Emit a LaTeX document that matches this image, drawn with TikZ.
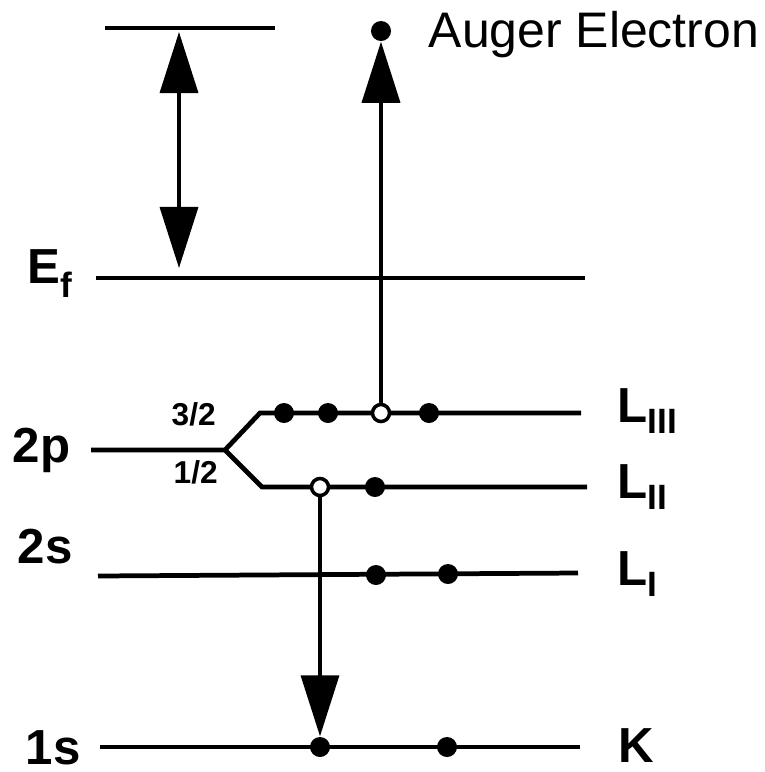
\documentclass[tikz,border=0pt]{standalone}
\usepackage{fontspec}
\setmainfont{Liberation Sans}
\usetikzlibrary{arrows.meta,positioning,calc}
\newcommand{\lsub}[1]{\raisebox{-0.11cm}{\fontsize{10}{10}\selectfont #1}}

\begin{document}
\begin{tikzpicture}[x=0.01cm, y=-0.01cm, >={Triangle[length=0.61cm,width=0.38cm]}]
  \tikzstyle{level}=[line width=1.35pt]
  \tikzstyle{lbl}=[inner sep=0, anchor=base west, font=\fontsize{14}{14}\selectfont\bfseries]
  \tikzstyle{spin}=[inner sep=0, anchor=base west, font=\fontsize{9}{9}\selectfont\bfseries]
  \tikzstyle{full}=[circle, fill, inner sep=0, minimum size=0.2cm]
  \tikzstyle{hole}=[circle, draw, fill=white, line width=1pt, inner sep=0, minimum size=0.17cm]
  \tikzstyle{trans}=[->, line width=1pt]
  \useasboundingbox (0,0) rectangle (765,772);

  % energy levels
  \draw[level] (105,28) -- (275,28);
  \draw[level] (96,278) -- (585,278);
  \draw[level] (91,450) -- (225,450) coordinate (split) -- (260,413) -- (581,413);
  \draw[level] (split) -- (262,487) -- (587,487);
  \draw[level] (98,576) -- (578,573);
  \draw[level] (100,747) -- (580,747);

  % electrons and holes
  \node[full] (l3a) at (284,413) {};
  \node[full] (l3b) at (328,413) {};
  \node[hole] (l3c) at (381,413) {};
  \node[full] (l3d) at (429,413) {};
  \node[hole] (l2a) at (320,487) {};
  \node[full] (l2b) at (375,487) {};
  \node[full] (l1a) at (376,575) {};
  \node[full] (l1b) at (448,574) {};
  \node[full] (ka) at (320,747) {};
  \node[full] (kb) at (447,747) {};
  \node[full] (auger) at (381,31) {};

  % transitions
  \draw[trans] (l3c) -- (auger);
  \draw[trans] (l2a) -- (ka);
  \coordinate (wt) at (179,32);
  \coordinate (wb) at (179,268);
  \draw[<->, line width=1pt] (wt) -- (wb);

  % labels
  \node[lbl] (ef) at (27,283) {E\raisebox{-0.14cm}{\fontsize{10}{10}\selectfont f}};
  \node[lbl] (p2) at (12,462) {2p};
  \node[lbl] (s2) at (17,563) {2s};
  \node[lbl] (s1) at (25,764) {1s};
  \node[lbl] (k) at (618,762) {K};
  \node[lbl] (l3) at (617,422) {L\lsub{III}};
  \node[lbl] (l2) at (617,498) {L\lsub{II}};
  \node[lbl] (l1) at (617,585) {L\lsub{I}};
  \node[spin] (j32) at (171,425) {3/2};
  \node[spin] (j12) at (173,483) {1/2};
  \node[inner sep=0, anchor=base west, font=\fontsize{14.2}{14}\selectfont] (aug) at (428,47) {Auger Electron};
\end{tikzpicture}
\end{document}
